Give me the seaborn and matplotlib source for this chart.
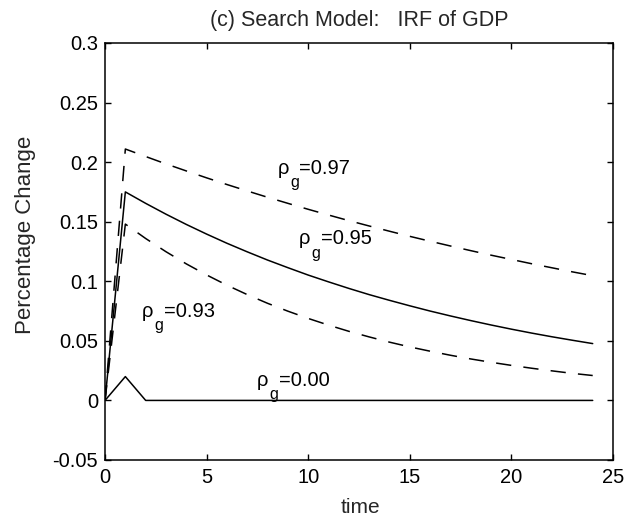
import matplotlib
matplotlib.use("Agg")
import matplotlib.pyplot as plt
import seaborn as sns
import pandas as pd
import numpy as np

time = list(range(25))
rho_097 = [0.0, 0.211, 0.2047, 0.1985, 0.1926, 0.1868, 0.1812, 0.1758, 0.1705, 0.1654,
           0.1604, 0.1556, 0.1509, 0.1464, 0.1420, 0.1377, 0.1336, 0.1296, 0.1257,
           0.1219, 0.1183, 0.1147, 0.1113, 0.1079, 0.1047]
rho_095 = [0.0, 0.175, 0.1654, 0.1563, 0.1477, 0.1396, 0.1319, 0.1247, 0.1178, 0.1114,
           0.1052, 0.0995, 0.0940, 0.0888, 0.0840, 0.0794, 0.0750, 0.0709, 0.0670,
           0.0633, 0.0598, 0.0565, 0.0534, 0.0505, 0.0477]
rho_093 = [0.0, 0.148, 0.1359, 0.1248, 0.1146, 0.1053, 0.0967, 0.0888, 0.0815, 0.0749,
           0.0688, 0.0632, 0.0580, 0.0533, 0.0489, 0.0449, 0.0413, 0.0379, 0.0348,
           0.0320, 0.0294, 0.0270, 0.0248, 0.0227, 0.0209]
rho_000 = [0.0, 0.020, 0.0, 0.0, 0.0, 0.0, 0.0, 0.0, 0.0, 0.0,
           0.0, 0.0, 0.0, 0.0, 0.0, 0.0, 0.0, 0.0, 0.0,
           0.0, 0.0, 0.0, 0.0, 0.0, 0.0]

series_names = ["0.97", "0.95", "0.93", "0.00"]
series_vals = [rho_097, rho_095, rho_093, rho_000]

x_ticks = [0, 5, 10, 15, 20, 25]
y_ticks = [-0.05, 0, 0.05, 0.1, 0.15, 0.2, 0.25, 0.3]
y_ticklabels = ["-0.05", "0", "0.05", "0.1", "0.15", "0.2", "0.25", "0.3"]

sns.set_theme(style="ticks")
plt.rcParams["font.family"] = ["Liberation Sans", "DejaVu Sans"]

df = pd.DataFrame({
    "time": time * len(series_names),
    "value": sum(series_vals, []),
    "rho": np.repeat(series_names, len(time)),
})

fig = plt.figure(figsize=(6.35, 5.28), dpi=100)
ax = fig.add_axes([0.1654, 0.1288, 0.8, 0.7898])

styles = {"0.97": (10, 8), "0.95": None, "0.93": (10, 8), "0.00": None}
for name in series_names:
    sub = df[df["rho"] == name]
    sns.lineplot(data=sub, x="time", y="value", ax=ax, color="black",
                 linewidth=1.1, legend=False)
    line = ax.lines[-1]
    if styles[name] is not None:
        line.set_dashes(styles[name])

ax.set_xlim(0, 25)
ax.set_ylim(-0.05, 0.3)
ax.set_xticks(x_ticks)
ax.set_xticklabels([str(t) for t in x_ticks])
ax.set_yticks(y_ticks)
ax.set_yticklabels(y_ticklabels)
ax.tick_params(direction="in", length=4, width=1, top=True, right=True,
               labelsize=14.5, colors="black")
ax.tick_params(axis="x", pad=6)
ax.tick_params(axis="y", pad=5)
for s in ax.spines.values():
    s.set_visible(True)
    s.set_color("black")
    s.set_linewidth(1.1)

ax.set_xlabel("time", fontsize=15)
ax.xaxis.set_label_coords(0.502, -0.092)
ax.set_ylabel("Percentage Change", fontsize=16)
ax.yaxis.set_label_coords(-0.136, 0.54)
ax.set_title("(c) Search Model:   IRF of GDP", fontsize=15.5, pad=12)

label_pos = {"0.97": (8.51, 0.190), "0.95": (9.55, 0.131),
             "0.93": (1.82, 0.070), "0.00": (7.48, 0.012)}
for name in series_names:
    x, y = label_pos[name]
    ax.annotate("\u03c1", (x, y), fontsize=14.5, va="baseline", ha="left",
                color="black")
    ax.annotate("g", (x, y), xytext=(8.6, -9.5), textcoords="offset points",
                fontsize=11.5, va="baseline", ha="left", color="black")
    ax.annotate("=" + name, (x, y), xytext=(15.5, 0), textcoords="offset points",
                fontsize=14.5, va="baseline", ha="left", color="black")

fig.savefig("out.png", dpi=100, facecolor="white")
